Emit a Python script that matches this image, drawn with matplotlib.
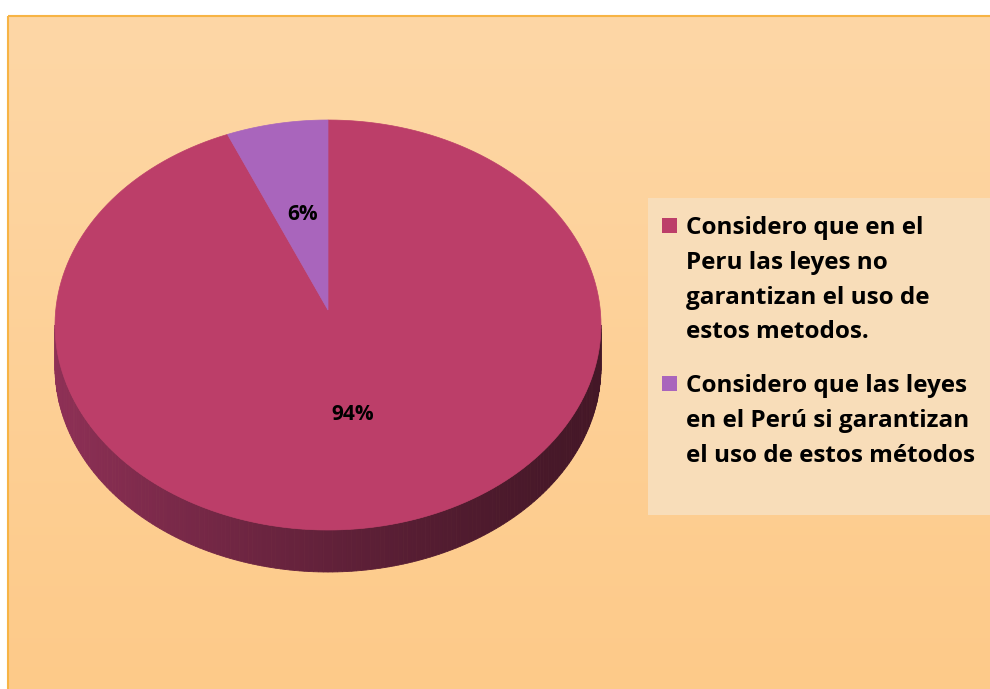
import numpy as np
import matplotlib.pyplot as plt
from matplotlib.patches import Polygon, Rectangle
from matplotlib.colors import to_rgb

labels = ["Considero que en el\nPeru las leyes no\ngarantizan el uso de\nestos metodos.",
          "Considero que las leyes\nen el Perú si garantizan\nel uso de estos métodos"]
values = [94, 6]
pct_labels = ["94%", "6%"]
colors = ["#BC3E69", "#A965BC"]

W, H = 990, 689
fig = plt.figure(figsize=(W / 100, H / 100), dpi=100)
ax = fig.add_axes([0, 0, 1, 1])
ax.set_xlim(0, W)
ax.set_ylim(H, 0)
ax.axis("off")

# background with vertical gradient
top = np.array(to_rgb("#FDD7A6"))
bot = np.array(to_rgb("#FECA89"))
g = np.linspace(0, 1, 256)[:, None, None]
grad = top * (1 - g) + bot * g
ax.imshow(np.repeat(grad, 2, axis=1), extent=(8, W + 2, H + 2, 16), aspect="auto", zorder=0)
ax.add_patch(Rectangle((8, 16), W, H, fill=False, ec="#F7B445", lw=1.5, zorder=1))

# 3d pie geometry
cx, cy, a, b, depth = 328, 325, 273, 205, 42
vx, vy = 328, 310  # apex of the slices on the top face


def pt(t):
    return cx + a * np.cos(t), cy - b * np.sin(t)


# side wall (front half)
ts = np.linspace(np.pi, 2 * np.pi, 181)
light = np.array(to_rgb("#8E3056"))
dark = np.array(to_rgb("#441727"))
for t0, t1 in zip(ts[:-1], ts[1:]):
    x0, y0 = pt(t0)
    x1, y1 = pt(t1)
    f = ((x0 + x1) / 2 - (cx - a)) / (2 * a)
    c = light * (1 - f) ** 1.3 + dark * (1 - (1 - f) ** 1.3)
    ax.add_patch(Polygon([(x0, y0), (x1, y1), (x1, y1 + depth), (x0, y0 + depth)],
                         closed=True, fc=c, ec=c, lw=0.6, zorder=2))

# top surface slices, clockwise from 12 o'clock
start = np.pi / 2
total = sum(values)
for v, col in zip(values, colors):
    sweep = 2 * np.pi * v / total
    tt = np.linspace(start, start - sweep, 200)
    xs, ys = pt(tt)
    verts = [(vx, vy)] + list(zip(xs, ys))
    ax.add_patch(Polygon(verts, closed=True, fc=col, ec=col, lw=0.5, zorder=3))
    start -= sweep

# percentage labels
lab_pos = [(353, 415), (303, 214)]
for (lx, ly), s in zip(lab_pos, pct_labels):
    ax.text(lx, ly, s, fontsize=15, fontweight="bold", family="Open Sans",
            ha="center", va="center", zorder=5)

# legend
ax.add_patch(Rectangle((648, 198), 342, 317, fc="#F8DDB9", ec="none", zorder=1.5))
ly = [226, 384]
for y, lab, col in zip(ly, labels, colors):
    ax.add_patch(Rectangle((662, y - 8), 15, 15, fc=col, ec="none", zorder=4))
    ax.text(686, y - 10, lab, fontsize=17.5, fontweight="bold", family="Open Sans",
            ha="left", va="top", linespacing=1.6, zorder=5)

fig.savefig("out.png", dpi=100)
